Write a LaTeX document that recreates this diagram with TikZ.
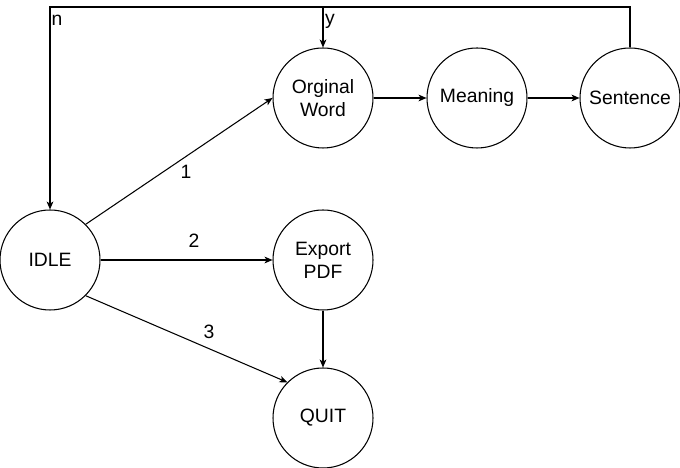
\documentclass[tikz,border=0pt]{standalone}
\usepackage{fontspec}
\setmainfont{Liberation Sans}
\usetikzlibrary{arrows.meta, positioning}

\begin{document}
\begin{tikzpicture}[
    state/.style={draw, circle, minimum size=2cm, inner sep=0pt, align=center, line width=0.6pt},
    trans/.style={line width=0.6pt, -{Stealth[length=4.5pt, width=3.8pt, inset=1.2pt]}},
    lbl/.style={inner sep=0pt},
    every node/.append style={font=\fontsize{11}{13.2}\selectfont}
]
\useasboundingbox (0,0) rectangle (13.6,9.36);
% states
\node[state] (idle) at (1.0,4.16) {IDLE};
\node[state] (word) at (6.46,7.4) {Orginal\\Word};
\node[state] (mean) at (9.54,7.4) {Meaning};
\node[state] (sent) at (12.6,7.4) {Sentence};
\node[state] (pdf) at (6.46,4.16) {Export\\PDF};
\node[state] (quit) at (6.46,1.0) {QUIT};
% menu choices
\draw[trans] (idle.45) -- (word.west);
\draw[trans] (idle.east) -- (pdf.west);
\draw[trans] (idle.-45) -- (quit.135);
\draw[trans] (pdf.south) -- (quit.north);
\node[lbl] (c1) at (3.72,5.92) {1};
\node[lbl] (c2) at (3.88,4.54) {2};
\node[lbl] (c3) at (4.18,2.72) {3};
% word chain
\draw[trans] (word.east) -- (mean.west);
\draw[trans] (mean.east) -- (sent.west);
% loop back (y / n)
\coordinate (top) at (1.0,9.22);
\draw[trans] (sent.north) |- (top) -- (idle.north);
\draw[trans] (word.north |- top) -- (word.north);
\node[lbl] (yes) at (6.6,8.94) {y};
\node[lbl] (no) at (1.14,8.96) {n};
\end{tikzpicture}
\end{document}
